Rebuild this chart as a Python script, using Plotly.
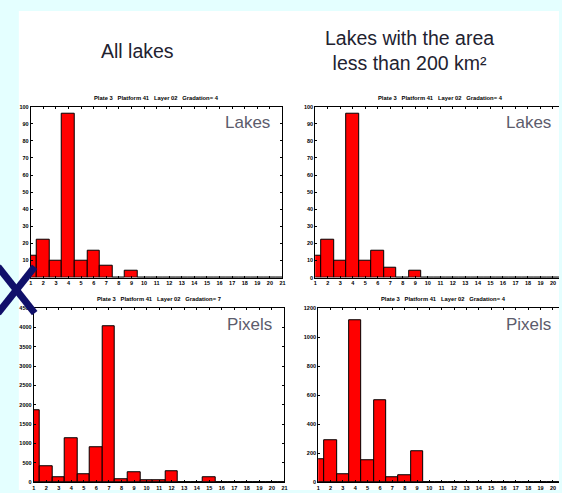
import plotly.graph_objects as go

W, H = 562, 493

bins = list(range(1, 22))
x_ticks = list(range(1, 22))

lakes_all = [13, 22, 10, 96, 10, 16, 7, 0, 4, 0, 0, 0, 0, 0, 0, 0, 0, 0, 0, 0, 0]
lakes_small = [13, 22, 10, 96, 10, 16, 6, 0, 4, 0, 0, 0, 0, 0, 0, 0, 0, 0, 0, 0, 0]
pixels_all = [1870, 410, 136, 1140, 204, 903, 4030, 68, 247, 43, 43, 281, 0, 0, 136, 0, 0, 0, 0, 0, 0]
pixels_small = [157, 286, 55, 1114, 148, 564, 36, 45, 214, 0, 0, 0, 0, 0, 0, 0, 0, 0, 0, 0, 0]

header_left = "All lakes"
header_right = "Lakes with the area<br>less than 200 km²"
panel_titles = [
    "Plate 3   Platform 41   Layer 02   Gradation= 4",
    "Plate 3   Platform 41   Layer 02   Gradation= 4",
    "Plate 3   Platform 41   Layer 02   Gradation= 7",
    "Plate 3   Platform 41   Layer 02   Gradation= 4",
]
panel_labels = ["Lakes", "Lakes", "Pixels", "Pixels"]

# panel boxes in pixels: (left, right, top, bottom, xmax, ymax, dtick, right_border)
panels = [
    (29, 283, 105, 278, 21, 100, 10, True),
    (316, 562, 105, 278, 20.48, 100, 10, False),
    (32, 285, 309, 485, 21, 4500, 500, True),
    (319, 562, 309, 485, 20.49, 1200, 200, False),
]
series = [lakes_all, lakes_small, pixels_all, pixels_small]

def px(x):
    return x / W

def py(y):
    return 1 - y / H

fig = go.Figure()
layout = dict(
    width=W, height=H,
    margin=dict(l=0, r=0, t=0, b=0),
    paper_bgcolor="#e4ffff",
    plot_bgcolor="white",
    showlegend=False,
    bargap=0,
    font=dict(family="Liberation Sans, Arial, sans-serif"),
)

annotations = []
shapes = [
    dict(type="rect", xref="paper", yref="paper", x0=px(17), x1=1.0, y0=0, y1=py(8),
         fillcolor="white", line=dict(width=0), layer="below"),
]

tick_font = dict(size=5.5, color="black", family="Liberation Sans", weight="bold")

for i, (p, vals) in enumerate(zip(panels, series)):
    l, r, t, b, xmax, ymax, dt, rb = p
    k = "" if i == 0 else str(i + 1)
    fig.add_trace(go.Bar(
        x=bins, y=vals, width=1,
        marker=dict(color="#ff0000", line=dict(color="black", width=1)),
        xaxis="x" + k, yaxis="y" + k,
    ))
    layout["xaxis" + k] = dict(
        domain=[px(l), px(r)], anchor="y" + k,
        range=[1, xmax], tickmode="array", tickvals=x_ticks,
        ticktext=[str(v) for v in x_ticks],
        ticks="inside", ticklen=2, tickcolor="black",
        showline=True, linecolor="black", linewidth=1,
        mirror="ticks", showgrid=False, zeroline=False,
        tickfont=tick_font, fixedrange=True,
    )
    layout["yaxis" + k] = dict(
        domain=[py(b), py(t)], anchor="x" + k,
        range=[0, ymax], dtick=dt,
        ticks="inside", ticklen=2, tickcolor="black",
        showline=True, linecolor="black", linewidth=1,
        mirror="ticks" if rb else False, showgrid=False, zeroline=False,
        tickfont=tick_font, fixedrange=True,
    )
    annotations.append(dict(
        text=panel_titles[i], xref="paper", yref="paper",
        x=px((l + (r if rb else l + 253)) / 2), y=py(t - 4),
        xanchor="center", yanchor="bottom", showarrow=False,
        font=dict(size=5.8, color="black", weight="bold"),
    ))
    annotations.append(dict(
        text=panel_labels[i], xref="x" + k + " domain", yref="y" + k + " domain",
        x=(r - 11 - l) / (r - l) if rb else (r - 6 - l) / (r - l), y=0.975,
        xanchor="right", yanchor="top", showarrow=False,
        font=dict(size=17, color="#5c5c6c"),
    ))

annotations.append(dict(
    text=header_left, xref="paper", yref="paper", x=px(137), y=py(49),
    xanchor="center", yanchor="middle", showarrow=False,
    font=dict(size=19.5, color="#222230"),
))
annotations.append(dict(
    text=header_right, xref="paper", yref="paper", x=px(411), y=py(48),
    xanchor="center", yanchor="middle", showarrow=False,
    font=dict(size=19.5, color="#222230"),
))

# decorative X mark on the slide
shapes.append(dict(type="line", xref="paper", yref="paper",
                   x0=px(33), y0=py(267), x1=px(-4), y1=py(314),
                   line=dict(color="#10106a", width=7), layer="above"))
shapes.append(dict(type="line", xref="paper", yref="paper",
                   x0=px(-4), y0=py(267), x1=px(33), y1=py(314),
                   line=dict(color="#10106a", width=7), layer="above"))

layout["annotations"] = annotations
layout["shapes"] = shapes
fig.update_layout(**layout)
fig.write_html(
    "out.html",
    config={"displayModeBar": False},
    post_script="document.body.style.margin='0';document.body.style.overflow='hidden';",
)
